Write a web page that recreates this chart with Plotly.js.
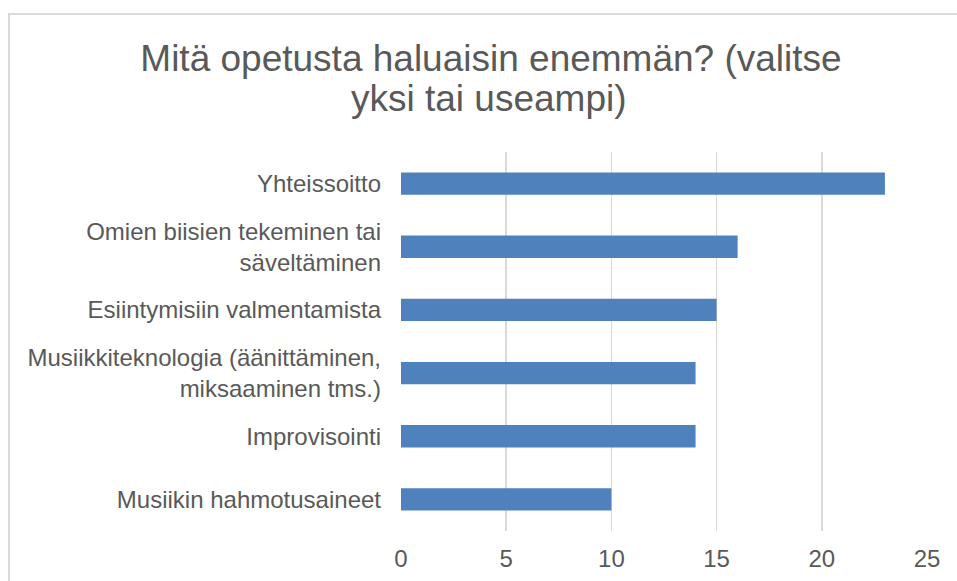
<!DOCTYPE html>
<html>
<head>
<meta charset="utf-8">
<script src="https://cdn.plot.ly/plotly-3.0.1.min.js"></script>
<style>
html,body{margin:0;padding:0;background:#fff;}
#wrap{position:relative;width:957px;height:581px;overflow:hidden;}
#chart{width:957px;height:581px;}
#frame{position:absolute;left:8px;top:13px;width:1000px;height:1000px;border:2px solid #d9d9d9;pointer-events:none;}
</style>
</head>
<body>
<div id="wrap"><div id="chart"></div><div id="frame"></div></div>
<script>
const titleLine1 = "Mitä opetusta haluaisin enemmän? (valitse";
const titleLine2 = "yksi tai useampi)";
const categories = [
  "Yhteissoitto",
  "Omien biisien tekeminen tai<br>säveltäminen",
  "Esiintymisiin valmentamista",
  "Musiikkiteknologia (äänittäminen,<br>miksaaminen tms.)",
  "Improvisointi",
  "Musiikin hahmotusaineet"
];
const values = [23, 16, 15, 14, 14, 10];
const xTicks = [0, 5, 10, 15, 20, 25];

const textColor = "#595959";
const fontFam = "Liberation Sans, Arial, sans-serif";

const trace = {
  type: "bar",
  orientation: "h",
  x: values,
  y: categories,
  marker: {color: "#4f81bd"},
  hoverinfo: "x+y"
};

const layout = {
  width: 957,
  height: 581,
  paper_bgcolor: "rgba(0,0,0,0)",
  plot_bgcolor: "#fff",
  margin: {l: 401, r: 30, t: 152, b: 50, pad: 0},
  font: {family: fontFam, color: textColor, size: 24},
  title: {
    text: titleLine1,
    font: {family: fontFam, size: 37, color: textColor},
    x: 491 / 957, xanchor: "center", xref: "container",
    y: 1 - 58 / 581, yanchor: "middle", yref: "container"
  },
  annotations: [{
    text: titleLine2,
    font: {family: fontFam, size: 37, color: textColor},
    xref: "paper", yref: "paper",
    x: (489 - 401) / 526, y: 1 + (152 - 98) / 379,
    xanchor: "center", yanchor: "middle",
    showarrow: false
  }],
  bargap: 0.646,
  showlegend: false,
  xaxis: {
    range: [0, 25],
    tickvals: xTicks,
    ticktext: xTicks.map(String),
    showgrid: true,
    gridcolor: "#d9d9d9",
    gridwidth: 1.5,
    zeroline: false,
    showline: false,
    ticks: "",
    ticklabelstandoff: 11,
    tickfont: {size: 24, color: textColor},
    fixedrange: true
  },
  yaxis: {
    type: "category",
    autorange: "reversed",
    showgrid: false,
    zeroline: false,
    showline: false,
    ticks: "",
    ticklabelstandoff: 19,
    tickfont: {size: 24, color: textColor},
    fixedrange: true
  }
};

Plotly.newPlot("chart", [trace], layout, {displayModeBar: false, staticPlot: true});
</script>
</body>
</html>
